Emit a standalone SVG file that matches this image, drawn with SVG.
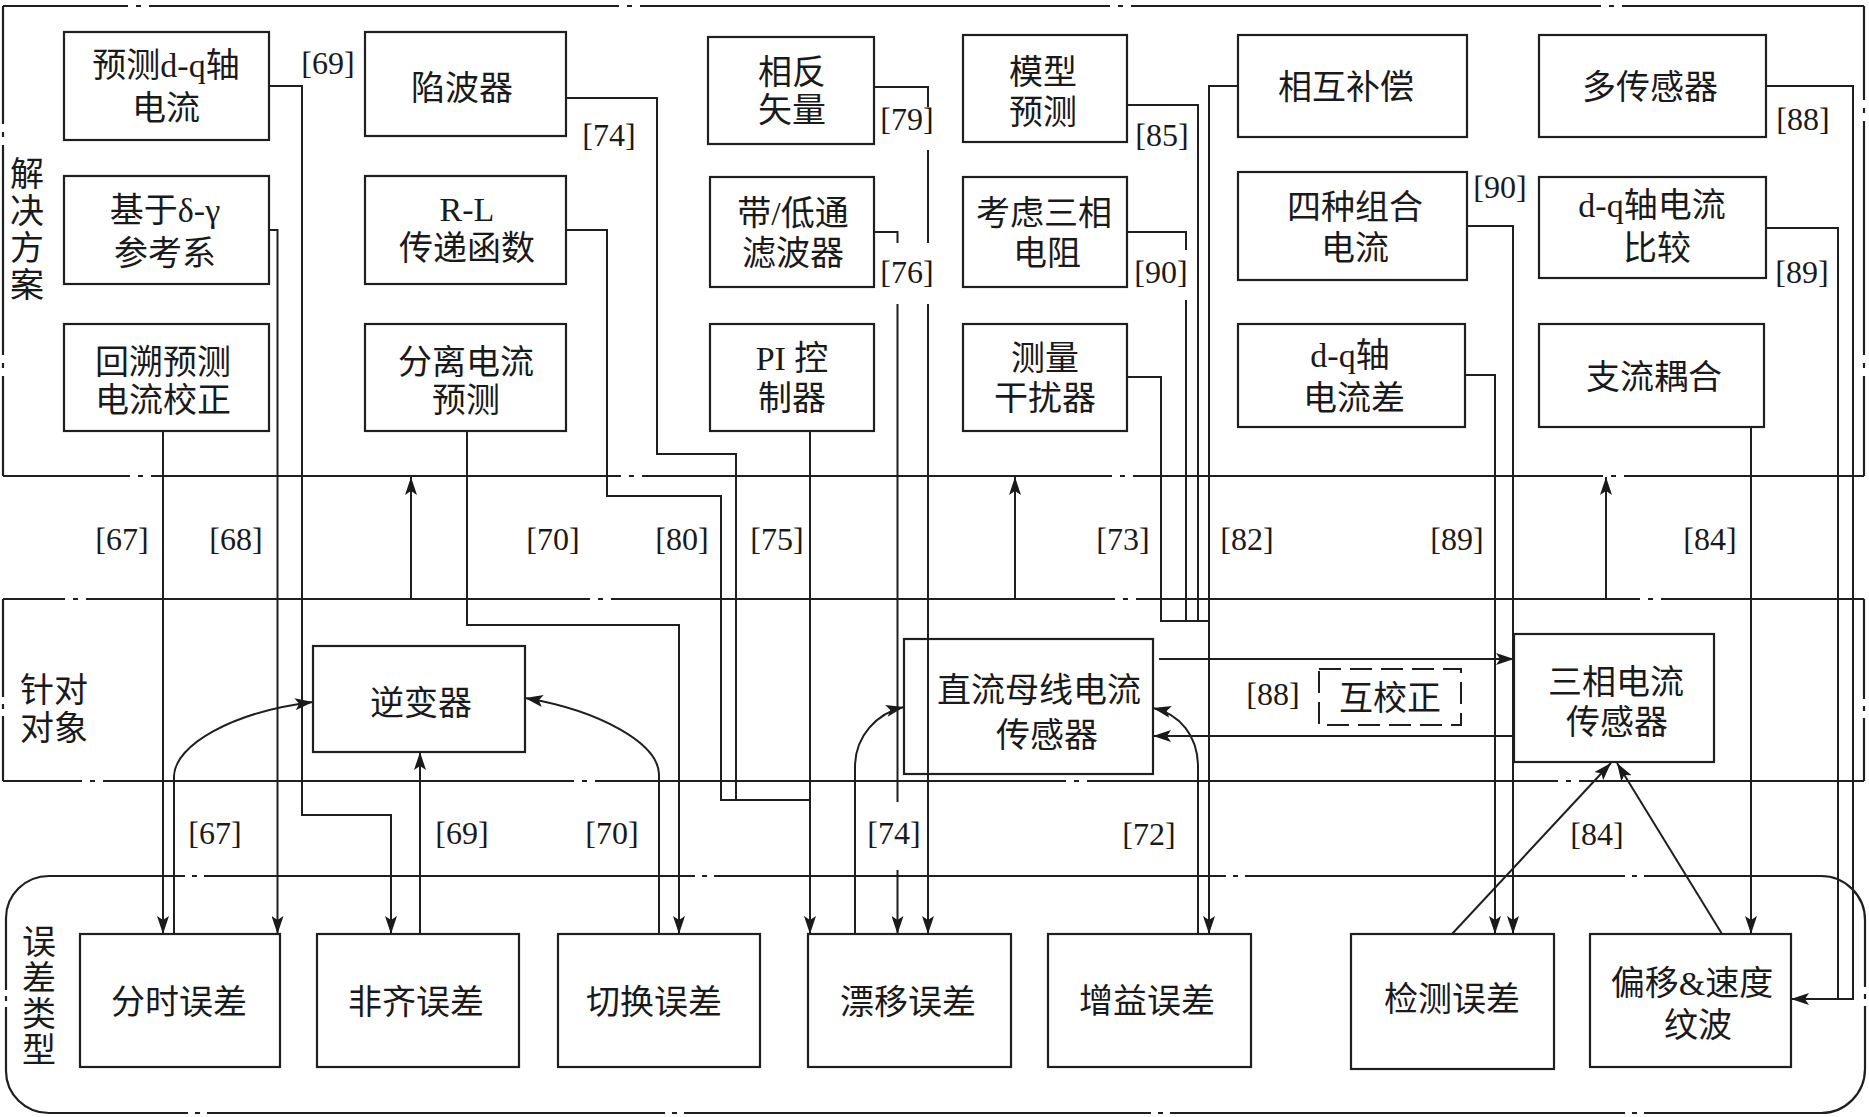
<svg xmlns="http://www.w3.org/2000/svg" width="1869" height="1117" viewBox="0 0 1869 1117">
<defs>
<style>
.box{fill:none;stroke:#1f1f1f;stroke-width:2.2}
.dbox{fill:none;stroke:#1f1f1f;stroke-width:2;stroke-dasharray:22 9}
.ln{fill:none;stroke:#1f1f1f;stroke-width:2}
.reg{fill:none;stroke:#1f1f1f;stroke-width:2.2}
.t{font-family:"Liberation Serif","Noto Sans CJK SC",serif;font-size:34px;fill:#1a1a1a;text-anchor:middle}
.ref{font-family:"Liberation Serif",serif;font-size:32px;fill:#1a1a1a;text-anchor:middle}
.bg{fill:#fff;stroke:none}
</style>
<marker id="ah" markerUnits="userSpaceOnUse" markerWidth="18" markerHeight="12" viewBox="0 0 18 12" refX="18" refY="6" orient="auto"><path d="M0,0 L18,6 L0,12 L4,6 Z" fill="#1a1a1a"/></marker>
</defs>
<rect width="1869" height="1117" fill="#fff"/>

<g id="regions">
  <!-- 解决方案 region -->
  <line class="reg" x1="3" y1="6" x2="1864" y2="6" stroke-dasharray="470 8 5 8" stroke-dashoffset="345"/>
  <line class="reg" x1="3" y1="476" x2="1864" y2="476" stroke-dasharray="470 8 5 8" stroke-dashoffset="343"/>
  <line class="reg" x1="3" y1="6" x2="3" y2="476" stroke-dasharray="210 8 5 8" stroke-dashoffset="92"/>
  <line class="reg" x1="1864" y1="6" x2="1864" y2="476" stroke-dasharray="234 8 5 8" stroke-dashoffset="140"/>
  <!-- 针对对象 region -->
  <line class="reg" x1="3" y1="599" x2="1864" y2="599" stroke-dasharray="504 8 5 8" stroke-dashoffset="442"/>
  <line class="reg" x1="3" y1="781" x2="1864" y2="781" stroke-dasharray="471 8 5 8" stroke-dashoffset="392"/>
  <line class="reg" x1="3" y1="599" x2="3" y2="781" stroke-dasharray="98 7 5 7 300"/>
  <line class="reg" x1="1864" y1="599" x2="1864" y2="781" stroke-dasharray="100 7 5 7 300"/>
  <!-- 误差类型 region (rounded) -->
  <line class="reg" x1="49" y1="876" x2="1821" y2="876" stroke-dasharray="136 7 5 7 491 7 5 7 512 7 5 7 380 7 5 7 400"/>
  <line class="reg" x1="49" y1="1113" x2="1821" y2="1113" stroke-dasharray="139 7 5 7 458 7 5 7 467 7 5 7 455 7 5 7 400"/>
  <line class="reg" x1="6" y1="918" x2="6" y2="1071" stroke-dasharray="72 6 5 6 200"/>
  <line class="reg" x1="1865" y1="920" x2="1865" y2="1069" stroke-dasharray="67 7 5 7 200"/>
  <path class="reg" d="M6,918 A43,42 0 0 1 49,876"/>
  <path class="reg" d="M1821,876 A44,44 0 0 1 1865,920"/>
  <path class="reg" d="M1865,1069 A44,44 0 0 1 1821,1113"/>
  <path class="reg" d="M49,1113 A43,42 0 0 1 6,1071"/>
</g>

<g id="region-labels">
  <text class="t" x="27" y="186">解</text>
  <text class="t" x="27" y="223">决</text>
  <text class="t" x="27" y="260">方</text>
  <text class="t" x="27" y="297">案</text>
  <text class="t" x="54" y="702">针对</text>
  <text class="t" x="54" y="740">对象</text>
  <text class="t" x="39" y="954">误</text>
  <text class="t" x="39" y="990">差</text>
  <text class="t" x="39" y="1026">类</text>
  <text class="t" x="39" y="1062">型</text>
</g>

<g id="connectors">
  <!-- up arrows between regions -->
  <path class="ln" d="M411,599 V477" marker-end="url(#ah)"/>
  <path class="ln" d="M1015,599 V477" marker-end="url(#ah)"/>
  <path class="ln" d="M1606,599 V477" marker-end="url(#ah)"/>
  <!-- [67] -->
  <path class="ln" d="M163,431 V934" marker-end="url(#ah)"/>
  <!-- [68] -->
  <path class="ln" d="M269,230 H277.5 V934" marker-end="url(#ah)"/>
  <!-- [69] -->
  <path class="ln" d="M269,86 H302 V815 H391 V934" marker-end="url(#ah)"/>
  <!-- 分时误差 -> 逆变器 -->
  <path class="ln" d="M174,934 V776 C175,745 232,712 313,702" marker-end="url(#ah)"/>
  <!-- 非齐误差 -> 逆变器 -->
  <path class="ln" d="M420,934 V752" marker-end="url(#ah)"/>
  <!-- 切换误差 -> 逆变器 -->
  <path class="ln" d="M659,934 V774 C658,744 602,711 525,698" marker-end="url(#ah)"/>
  <!-- [70] -->
  <path class="ln" d="M467,431 V625 H679 V934" marker-end="url(#ah)"/>
  <!-- [80] -->
  <path class="ln" d="M566,230 H607 V496 H721 V800 H810"/>
  <!-- [74] -->
  <path class="ln" d="M566,98 H657 V454 H736 V800"/>
  <!-- [75] -->
  <path class="ln" d="M810,431 V934" marker-end="url(#ah)"/>
  <!-- 漂移误差 -> 直流母线电流传感器 -->
  <path class="ln" d="M855,934 V767 C855,736 877,713 904,707" marker-end="url(#ah)"/>
  <!-- [79] -->
  <path class="ln" d="M874,87 H928 V934" marker-end="url(#ah)"/>
  <!-- [76] -->
  <path class="ln" d="M874,232 H897.5 V934" marker-end="url(#ah)"/>
  <!-- [85] [90] [73] merged with [82] -->
  <path class="ln" d="M1127,105 H1198 V621"/>
  <path class="ln" d="M1127,232 H1186 V621"/>
  <path class="ln" d="M1127,377 H1161 V621 H1209"/>
  <path class="ln" d="M1238,86 H1209 V934" marker-end="url(#ah)"/>
  <!-- 增益误差 -> 直流母线电流传感器 -->
  <path class="ln" d="M1198,934 V767 C1198,736 1180,714 1153,708" marker-end="url(#ah)"/>
  <!-- 互校正 -->
  <path class="ln" d="M1159,659 H1514" marker-end="url(#ah)"/>
  <path class="ln" d="M1514,736 H1153" marker-end="url(#ah)"/>
  <!-- [90] 四种组合电流, [89] d-q轴电流差 -->
  <path class="ln" d="M1467,226 H1513 V934" marker-end="url(#ah)"/>
  <path class="ln" d="M1465,375 H1495 V934" marker-end="url(#ah)"/>
  <!-- [88] [89] right side -->
  <path class="ln" d="M1766,86 H1853 V999 H1791" marker-end="url(#ah)"/>
  <path class="ln" d="M1766,228 H1838 V999"/>
  <!-- [84] 支流耦合 -->
  <path class="ln" d="M1751,427 V934" marker-end="url(#ah)"/>
  <!-- 检测误差 / 偏移 -> 三相电流传感器 -->
  <path class="ln" d="M1452,934 L1611,763" marker-end="url(#ah)"/>
  <path class="ln" d="M1722,934 L1617,763" marker-end="url(#ah)"/>
</g>

<g id="connector-labels">
  <rect class="bg" x="879" y="107" width="57" height="43"/>
  <rect class="bg" x="879" y="243" width="57" height="61"/>
  <rect class="bg" x="1133" y="250" width="57" height="50"/>
  <rect class="bg" x="866" y="802" width="56" height="68"/>
  <text class="ref" x="328" y="74">[69]</text>
  <text class="ref" x="609" y="146">[74]</text>
  <text class="ref" x="907" y="130">[79]</text>
  <text class="ref" x="907" y="283">[76]</text>
  <text class="ref" x="1162" y="146">[85]</text>
  <text class="ref" x="1161" y="283">[90]</text>
  <text class="ref" x="1500" y="198">[90]</text>
  <text class="ref" x="1803" y="130">[88]</text>
  <text class="ref" x="1802" y="283">[89]</text>
  <text class="ref" x="122" y="550">[67]</text>
  <text class="ref" x="236" y="550">[68]</text>
  <text class="ref" x="553" y="550">[70]</text>
  <text class="ref" x="682" y="550">[80]</text>
  <text class="ref" x="777" y="550">[75]</text>
  <text class="ref" x="1123" y="550">[73]</text>
  <text class="ref" x="1247" y="550">[82]</text>
  <text class="ref" x="1457" y="550">[89]</text>
  <text class="ref" x="1710" y="550">[84]</text>
  <text class="ref" x="1273" y="705">[88]</text>
  <text class="ref" x="215" y="844">[67]</text>
  <text class="ref" x="462" y="844">[69]</text>
  <text class="ref" x="612" y="844">[70]</text>
  <text class="ref" x="894" y="844">[74]</text>
  <text class="ref" x="1149" y="845">[72]</text>
  <text class="ref" x="1597" y="845">[84]</text>
</g>

<g id="n-yucedq"><rect class="box" x="64" y="32" width="205" height="108"/><text class="t" x="166" y="77">预测d-q轴</text><text class="t" x="166" y="120">电流</text></g>
<g id="n-deltagamma"><rect class="box" x="64" y="176" width="205" height="108"/><text class="t" x="165" y="222">基于δ-γ</text><text class="t" x="165" y="265">参考系</text></g>
<g id="n-huisu"><rect class="box" x="64" y="324" width="205" height="107"/><text class="t" x="163" y="374">回溯预测</text><text class="t" x="163" y="412">电流校正</text></g>
<g id="n-xianboqi"><rect class="box" x="365" y="32" width="201" height="104"/><text class="t" x="462" y="100">陷波器</text></g>
<g id="n-rl"><rect class="box" x="365" y="176" width="201" height="108"/><text class="t" x="467" y="221">R-L</text><text class="t" x="467" y="260">传递函数</text></g>
<g id="n-fenli"><rect class="box" x="365" y="324" width="201" height="107"/><text class="t" x="466" y="374">分离电流</text><text class="t" x="466" y="412">预测</text></g>
<g id="n-xiangfan"><rect class="box" x="708" y="37" width="166" height="107"/><text class="t" x="792" y="84">相反</text><text class="t" x="792" y="122">矢量</text></g>
<g id="n-lvboqi"><rect class="box" x="710" y="177" width="164" height="110"/><text class="t" x="793" y="225">带/低通</text><text class="t" x="793" y="265">滤波器</text></g>
<g id="n-pi"><rect class="box" x="710" y="324" width="164" height="107"/><text class="t" x="792" y="370">PI 控</text><text class="t" x="792" y="410">制器</text></g>
<g id="n-moxing"><rect class="box" x="963" y="35" width="164" height="107"/><text class="t" x="1043" y="84">模型</text><text class="t" x="1043" y="124">预测</text></g>
<g id="n-dianzu"><rect class="box" x="963" y="177" width="164" height="110"/><text class="t" x="1044" y="225">考虑三相</text><text class="t" x="1047" y="265">电阻</text></g>
<g id="n-ganrao"><rect class="box" x="963" y="324" width="164" height="107"/><text class="t" x="1045" y="370">测量</text><text class="t" x="1045" y="410">干扰器</text></g>
<g id="n-buchang"><rect class="box" x="1238" y="35" width="229" height="102"/><text class="t" x="1346" y="99">相互补偿</text></g>
<g id="n-sizhong"><rect class="box" x="1238" y="172" width="229" height="108"/><text class="t" x="1355" y="219">四种组合</text><text class="t" x="1355" y="260">电流</text></g>
<g id="n-dqcha"><rect class="box" x="1238" y="324" width="227" height="103"/><text class="t" x="1350" y="367">d-q轴</text><text class="t" x="1354" y="410">电流差</text></g>
<g id="n-duochuan"><rect class="box" x="1539" y="35" width="227" height="102"/><text class="t" x="1650" y="99">多传感器</text></g>
<g id="n-dqbijiao"><rect class="box" x="1539" y="177" width="227" height="101"/><text class="t" x="1652" y="217">d-q轴电流</text><text class="t" x="1657" y="260">比较</text></g>
<g id="n-zhiliu"><rect class="box" x="1539" y="324" width="225" height="103"/><text class="t" x="1654" y="389">支流耦合</text></g>

<g id="n-nibianqi"><rect class="box" x="313" y="646" width="212" height="106"/><text class="t" x="421" y="715">逆变器</text></g>
<g id="n-dcbus"><rect class="box" x="904" y="639" width="249" height="135"/><text class="t" x="1039" y="702">直流母线电流</text><text class="t" x="1047" y="747">传感器</text></g>
<g id="n-sanxiang"><rect class="box" x="1514" y="634" width="200" height="128"/><text class="t" x="1616" y="694">三相电流</text><text class="t" x="1617" y="734">传感器</text></g>
<g id="n-hujiaozheng"><rect class="dbox" x="1319" y="669" width="142" height="56"/><text class="t" x="1390" y="710">互校正</text></g>

<g id="n-fenshi"><rect class="box" x="80" y="934" width="200" height="133"/><text class="t" x="179" y="1014">分时误差</text></g>
<g id="n-feiqi"><rect class="box" x="317" y="934" width="202" height="133"/><text class="t" x="416" y="1014">非齐误差</text></g>
<g id="n-qiehuan"><rect class="box" x="558" y="934" width="202" height="133"/><text class="t" x="654" y="1014">切换误差</text></g>
<g id="n-piaoyi"><rect class="box" x="808" y="934" width="203" height="133"/><text class="t" x="908" y="1014">漂移误差</text></g>
<g id="n-zengyi"><rect class="box" x="1048" y="934" width="203" height="133"/><text class="t" x="1147" y="1013">增益误差</text></g>
<g id="n-jiance"><rect class="box" x="1351" y="934" width="203" height="135"/><text class="t" x="1452" y="1011">检测误差</text></g>
<g id="n-pianyi"><rect class="box" x="1590" y="934" width="201" height="133"/><text class="t" x="1692" y="995">偏移&amp;速度</text><text class="t" x="1698" y="1037">纹波</text></g>
</svg>
